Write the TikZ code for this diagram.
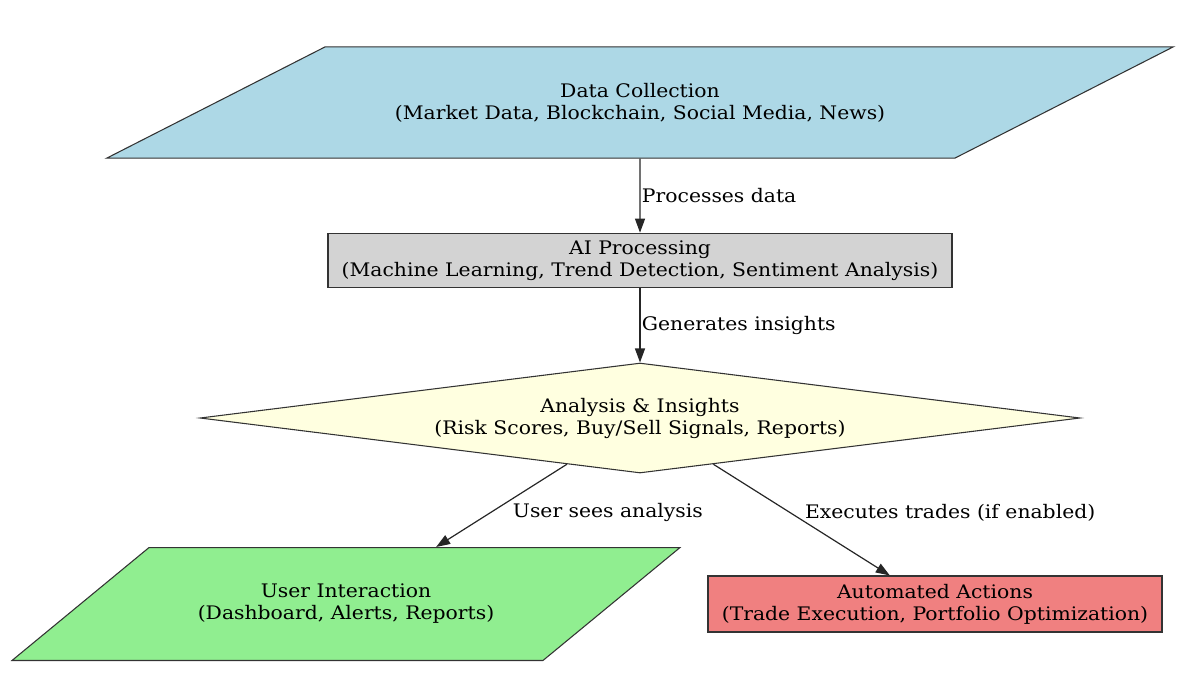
\documentclass[tikz,border=0pt]{standalone}
\usepackage{fontspec}
\setmainfont{DejaVu Serif}[FakeStretch=1.09]
\usepackage{tikz}
\usetikzlibrary{shapes.geometric,arrows.meta}
\definecolor{lightblue}{RGB}{173,216,230}
\definecolor{lightgrey}{RGB}{211,211,211}
\definecolor{lightyellow}{RGB}{255,255,224}
\definecolor{lightgreen}{RGB}{144,238,144}
\definecolor{lightcoral}{RGB}{240,128,128}
\definecolor{edgegrey}{RGB}{51,51,51}
\tikzset{
  box/.style={draw=edgegrey, line width=0.8pt, align=center, inner sep=0pt,
    font=\fontsize{14}{16.5}\selectfont},
  slanted/.style={box, trapezium, trapezium stretches body=true},
  flow/.style={draw=black!85, line width=0.9pt, -{Triangle[length=10.5pt, width=7.5pt]}},
  flowlabel/.style={font=\fontsize{14}{16.5}\selectfont, anchor=west, inner sep=1pt}
}

\begin{document}
\begin{tikzpicture}[x=0.75pt, y=-0.75pt]
\useasboundingbox (0,0) rectangle (1199,697);
% Data source
\node[slanted, fill=lightblue, trapezium left angle=27, trapezium right angle=153,
  inner ysep=27.1pt, minimum width=800pt] (collect) at (640,102.5)
  {Data Collection\\(Market Data, Blockchain, Social Media, News)};
% Processing stage
\node[box, fill=lightgrey, minimum width=468pt, minimum height=41pt] (process) at (640,260.5)
  {AI Processing\\(Machine Learning, Trend Detection, Sentiment Analysis)};
% Decision / insights
\node[box, diamond, aspect=8, fill=lightyellow, minimum width=660pt, minimum height=82.5pt] (insights) at (640,418)
  {Analysis \& Insights\\(Risk Scores, Buy/Sell Signals, Reports)};
% Outputs
\node[slanted, fill=lightgreen, trapezium left angle=39.5, trapezium right angle=140.5,
  inner ysep=27.5pt, minimum width=501pt] (user) at (346,604)
  {User Interaction\\(Dashboard, Alerts, Reports)};
\node[box, fill=lightcoral, minimum width=340.5pt, minimum height=42pt] (auto) at (935,604)
  {Automated Actions\\(Trade Execution, Portfolio Optimization)};
% Edges
\draw[flow] (collect) -- node[flowlabel] {Processes data} (process);
\draw[flow] (process) -- node[flowlabel] {Generates insights} (insights);
\draw[flow] (insights) -- node[flowlabel, pos=0.55, xshift=12pt, yshift=-2pt] {User sees analysis} (user);
\draw[flow] (insights) -- node[flowlabel, pos=0.41, xshift=13pt, yshift=-2pt] {Executes trades (if enabled)} (auto);
\end{tikzpicture}
\end{document}
